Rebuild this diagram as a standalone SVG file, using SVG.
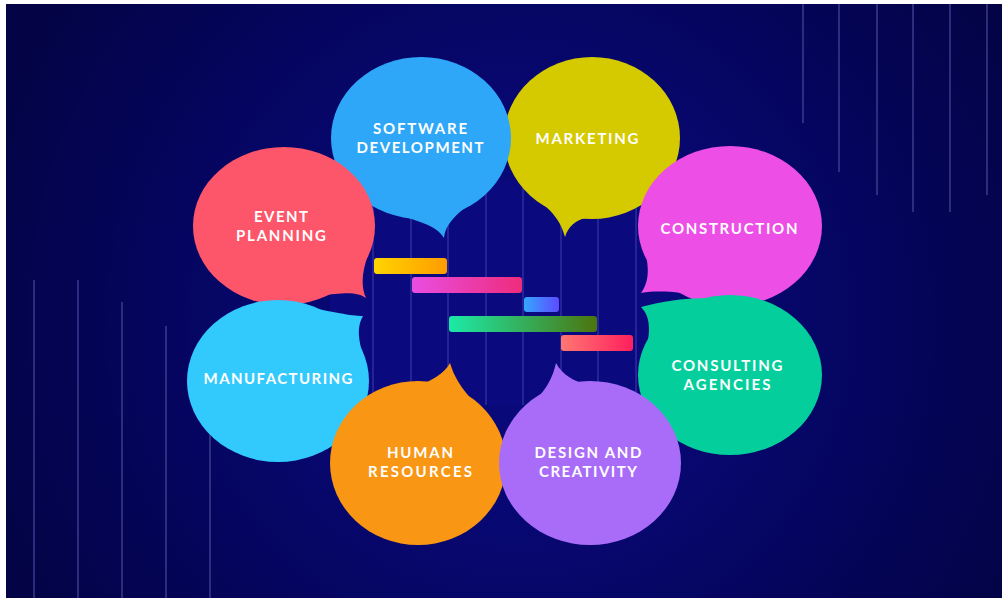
<svg xmlns="http://www.w3.org/2000/svg" width="1002" height="598" viewBox="0 0 1002 598">
  <defs>
    <radialGradient id="bg" cx="520" cy="320" r="560" gradientUnits="userSpaceOnUse">
      <stop offset="0" stop-color="#0a0a7c"/>
      <stop offset="0.3" stop-color="#080876"/>
      <stop offset="0.65" stop-color="#05055e"/>
      <stop offset="1" stop-color="#030346"/>
    </radialGradient>
    <linearGradient id="g1" x1="0" y1="0" x2="1" y2="0">
      <stop offset="0" stop-color="#ffd400"/><stop offset="1" stop-color="#ff9c00"/>
    </linearGradient>
    <linearGradient id="g2" x1="0" y1="0" x2="1" y2="0">
      <stop offset="0" stop-color="#e84ee2"/><stop offset="1" stop-color="#ee2c7c"/>
    </linearGradient>
    <linearGradient id="g3" x1="0" y1="0" x2="1" y2="0">
      <stop offset="0" stop-color="#35a6ff"/><stop offset="1" stop-color="#5d4bff"/>
    </linearGradient>
    <linearGradient id="g4" x1="0" y1="0" x2="1" y2="0">
      <stop offset="0" stop-color="#1ceaa8"/><stop offset="1" stop-color="#4c740e"/>
    </linearGradient>
    <linearGradient id="g5" x1="0" y1="0" x2="1" y2="0">
      <stop offset="0" stop-color="#ff7772"/><stop offset="1" stop-color="#ff1f5e"/>
    </linearGradient>
  </defs>
  <style>
    .deco { stroke: #3b3b8e; stroke-width: 1.5; fill: none; }
    .grid { stroke: #3636a8; stroke-width: 1.2; fill: none; }
    .lbl { font-family: Lato, "Liberation Sans", Arial, sans-serif; font-weight: bold; font-size: 15px; fill: #ffffff; text-anchor: middle; }
  </style>

  <!-- page margin and backdrop -->
  <rect x="0" y="0" width="1002" height="598" fill="#ffffff"/>
  <rect x="6" y="4" width="996" height="594" fill="url(#bg)"/>

  <!-- decorative vertical strokes -->
  <g id="deco-lines">
    <line class="deco" x1="803" y1="4" x2="803" y2="123"/>
    <line class="deco" x1="839" y1="4" x2="839" y2="172"/>
    <line class="deco" x1="877" y1="4" x2="877" y2="195"/>
    <line class="deco" x1="913" y1="4" x2="913" y2="212"/>
    <line class="deco" x1="950" y1="4" x2="950" y2="212"/>
    <line class="deco" x1="987" y1="4" x2="987" y2="195"/>
    <line class="deco" x1="34" y1="280" x2="34" y2="598"/>
    <line class="deco" x1="78" y1="280" x2="78" y2="598"/>
    <line class="deco" x1="122" y1="302" x2="122" y2="598"/>
    <line class="deco" x1="166" y1="326" x2="166" y2="598"/>
    <line class="deco" x1="210" y1="400" x2="210" y2="598"/>
  </g>

  <!-- central chart panel -->
  <rect x="330" y="180" width="350" height="225" rx="20" fill="#0a0a7e"/>
  <g id="grid">
    <line class="grid" x1="373" y1="185" x2="373" y2="405"/>
    <line class="grid" x1="411" y1="185" x2="411" y2="405"/>
    <line class="grid" x1="448" y1="185" x2="448" y2="405"/>
    <line class="grid" x1="486" y1="185" x2="486" y2="405"/>
    <line class="grid" x1="523" y1="185" x2="523" y2="405"/>
    <line class="grid" x1="561" y1="185" x2="561" y2="405"/>
    <line class="grid" x1="598" y1="185" x2="598" y2="405"/>
    <line class="grid" x1="636" y1="185" x2="636" y2="405"/>
  </g>
  <g id="bars">
    <rect x="374" y="258" width="73" height="16" rx="3" fill="url(#g1)"/>
    <rect x="412" y="277" width="110" height="16" rx="3" fill="url(#g2)"/>
    <rect x="524" y="297" width="35" height="15" rx="3" fill="url(#g3)"/>
    <rect x="449" y="316" width="148" height="16" rx="3" fill="url(#g4)"/>
    <rect x="561" y="335" width="72" height="16" rx="3" fill="url(#g5)"/>
  </g>

  <!-- speech bubbles -->
  <g id="marketing" fill="#d5c900">
    <ellipse cx="592" cy="138" rx="88" ry="81"/>
    <path d="M520 182 C540 205 558 210 565 237 C572 215 595 215 625 212 Z"/>
    <text class="lbl" x="587" y="144" textLength="103" lengthAdjust="spacing">MARKETING</text>
  </g>
  <g id="software-development" fill="#2ea7f9">
    <ellipse cx="421" cy="138" rx="90" ry="81"/>
    <path d="M365 198 C400 222 432 218 444 238 C446 220 462 210 488 190 Z"/>
    <text class="lbl" x="420" y="134" textLength="94" lengthAdjust="spacing">SOFTWARE</text>
    <text class="lbl" x="420" y="153" textLength="127" lengthAdjust="spacing">DEVELOPMENT</text>
  </g>
  <g id="event-planning" fill="#fd5569">
    <ellipse cx="284" cy="226" rx="91" ry="79"/>
    <path d="M320 296 C345 292 358 292 366 298 C360 285 362 268 372 245 Z"/>
    <text class="lbl" x="281" y="222" textLength="54" lengthAdjust="spacing">EVENT</text>
    <text class="lbl" x="281" y="241" textLength="90" lengthAdjust="spacing">PLANNING</text>
  </g>
  <g id="construction" fill="#ec4ee6">
    <ellipse cx="730" cy="226" rx="92" ry="80"/>
    <path d="M645 250 C650 272 648 283 641 293 C660 290 680 292 705 297 Z"/>
    <text class="lbl" x="729" y="234" textLength="137" lengthAdjust="spacing">CONSTRUCTION</text>
  </g>
  <g id="consulting-agencies" fill="#04cf9c">
    <ellipse cx="730" cy="375" rx="92" ry="80"/>
    <path d="M710 298 C680 298 660 302 641 307 C652 318 650 335 645 355 Z"/>
    <text class="lbl" x="727" y="371" textLength="111" lengthAdjust="spacing">CONSULTING</text>
    <text class="lbl" x="727" y="390" textLength="87" lengthAdjust="spacing">AGENCIES</text>
  </g>
  <g id="manufacturing" fill="#32c9fd">
    <ellipse cx="278" cy="381" rx="91" ry="81"/>
    <path d="M300 306 C335 312 350 316 363 316 C355 330 360 345 366 365 Z"/>
    <text class="lbl" x="278" y="384" textLength="149" lengthAdjust="spacing">MANUFACTURING</text>
  </g>
  <g id="human-resources" fill="#f99613">
    <ellipse cx="418" cy="463" rx="88" ry="82"/>
    <path d="M360 410 C400 390 438 385 450 363 C458 390 475 400 492 425 Z"/>
    <text class="lbl" x="420" y="458" textLength="66" lengthAdjust="spacing">HUMAN</text>
    <text class="lbl" x="420" y="477" textLength="104" lengthAdjust="spacing">RESOURCES</text>
  </g>
  <g id="design-and-creativity" fill="#a96cf8">
    <ellipse cx="590" cy="463" rx="91" ry="82"/>
    <path d="M515 420 C535 400 550 390 556 363 C570 388 600 386 640 395 Z"/>
    <text class="lbl" x="588" y="458" textLength="107" lengthAdjust="spacing">DESIGN AND</text>
    <text class="lbl" x="588" y="477" textLength="98" lengthAdjust="spacing">CREATIVITY</text>
  </g>
</svg>
